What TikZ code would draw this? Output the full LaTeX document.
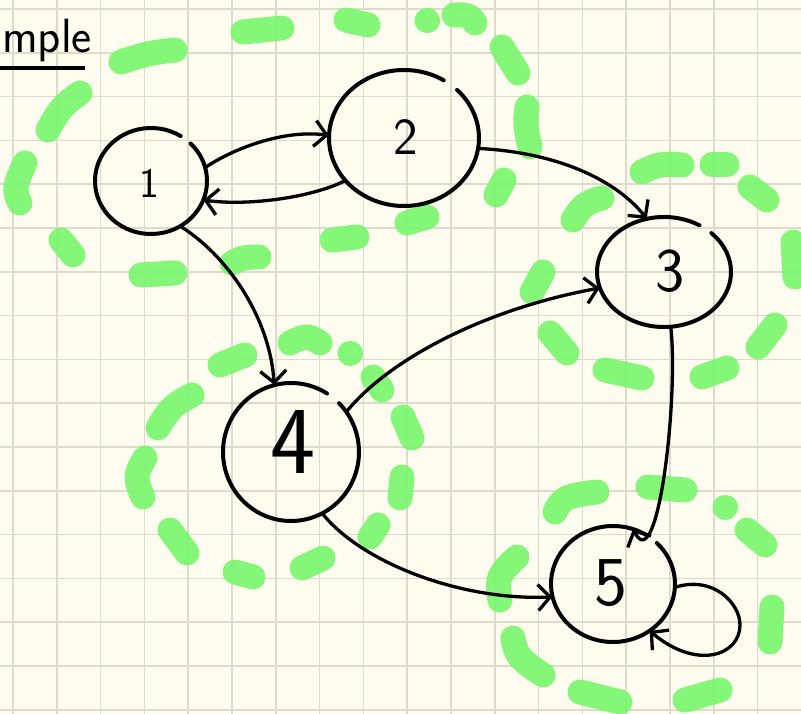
\documentclass[tikz,border=0pt]{standalone}
\usetikzlibrary{arrows.meta,shapes.geometric}
\definecolor{paper}{RGB}{253,252,238}
\definecolor{gridc}{RGB}{222,219,204}
\definecolor{hl}{RGB}{122,247,112}
\tikzset{
  vtx/.style={ellipse,inner sep=0pt},
  ring/.style={line width=4pt,line cap=round},
  lbl/.style={font=\sffamily,inner sep=0pt},
  edge/.style={line width=3.3pt,line cap=round,-{Straight Barb[length=12pt,width=26pt,line width=3.3pt]}},
  gdash/.style={line width=25pt,line cap=round,line join=round,draw=hl,opacity=0.92},
}
\newcommand\greendash[1]{\draw[gdash] plot[smooth,tension=0.7] coordinates {#1};}
\newcommand\ringarc[3]{\draw[ring] ([shift={(58:#2 and #3)}]#1.center) arc[start angle=58,end angle=405,x radius=#2,y radius=#3];}
\begin{document}
\begin{tikzpicture}[x=1pt,y=1pt]
\useasboundingbox (0,0) rectangle (801,-714);
\fill[paper] (0,0) rectangle (801,-714);
% grid
\foreach \i in {0,...,18} {\draw[gridc,line width=1.5pt] ({13+43.8*\i},0) -- ({13+43.8*\i},-714);}
\foreach \j in {0,...,16} {\draw[gridc,line width=1.5pt] (0,{-9-43.8*\j}) -- (801,{-9-43.8*\j});}

% green loop around {1,2}
\greendash{(121,-62) (148,-54) (175,-50)}
\greendash{(243,-32) (282,-28)}
\greendash{(346,-20) (368,-25)}
\greendash{(427,-21) (427.5,-21)}
\greendash{(454,-15) (468,-16) (475,-23)}
\greendash{(502,-47) (518,-73)}
\greendash{(527,-107) (526,-126) (530,-147)}
\greendash{(504,-180) (496,-195)}
\greendash{(407,-223) (427,-217)}
\greendash{(332,-240) (357,-237)}
\greendash{(232,-263) (244,-258) (259,-257)}
\greendash{(141,-275) (175,-273)}
\greendash{(61,-240) (73,-255)}
\greendash{(25,-163) (16,-187) (20,-203)}
\greendash{(48,-130) (62,-108) (80,-93)}
% green loop around {3}
\greendash{(642,-172) (660,-165) (682,-165)}
\greendash{(712,-165) (727,-165)}
\greendash{(750,-187) (767,-200)}
\greendash{(793,-242) (795,-277)}
\greendash{(775,-325) (758,-347)}
\greendash{(727,-368) (702,-377)}
\greendash{(642,-378) (605,-370)}
\greendash{(567,-353) (550,-333)}
\greendash{(543,-272) (532,-292)}
\greendash{(573,-220) (585,-205) (602,-198)}
% green loop around {4}
\greendash{(290,-343) (307,-337) (320,-343)}
\greendash{(350,-353) (350.5,-353)}
\greendash{(373,-377) (382,-390)}
\greendash{(403,-417) (412,-438)}
\greendash{(402,-477) (400,-498)}
\greendash{(378,-525) (370,-537)}
\greendash{(323,-558) (302,-568)}
\greendash{(253,-577) (235,-572)}
\greendash{(187,-553) (170,-530)}
\greendash{(145,-458) (137,-477) (143,-497)}
\greendash{(158,-428) (172,-408) (192,-395)}
\greendash{(220,-365) (245,-355)}
% green loop around {5}
\greendash{(555,-512) (567,-498) (597,-492)}
\greendash{(648,-487) (685,-490)}
\greendash{(725,-507) (725.5,-507)}
\greendash{(747,-530) (765,-545)}
\greendash{(772,-607) (770,-642)}
\greendash{(720,-690) (685,-700)}
\greendash{(620,-702) (580,-692)}
\greendash{(543,-675) (520,-657) (513,-638)}
\greendash{(517,-557) (500,-577) (500,-600)}

% title (only its end is visible)
\node[lbl,font=\sffamily\fontsize{48}{48}\selectfont,anchor=base west] (title) at (2,-53) {mple};
\draw[line width=3.3pt] (0,-68) -- (85,-68);

% vertices
\node[vtx,minimum width=112pt,minimum height=106pt] (n1) at (151,-181) {};
\node[vtx,minimum width=150pt,minimum height=136pt] (n2) at (404,-138) {};
\node[vtx,minimum width=134pt,minimum height=110pt] (n3) at (664,-272) {};
\node[vtx,minimum width=136pt,minimum height=138pt] (n4) at (291,-452) {};
\node[vtx,minimum width=124pt,minimum height=116pt] (n5) at (613,-584) {};
\ringarc{n1}{56}{53}
\ringarc{n2}{75}{68}
\ringarc{n3}{67}{55}
\ringarc{n4}{68}{69}
\ringarc{n5}{62}{58}
\node[lbl,font=\sffamily\fontsize{42}{42}\selectfont] (l1) at (149,-183) {1};
\node[lbl,font=\sffamily\fontsize{52}{52}\selectfont] (l2) at (406,-137) {2};
\node[lbl,font=\sffamily\fontsize{62}{62}\selectfont] (l3) at (670,-271) {3};
\node[lbl,font=\sffamily\fontsize{96}{96}\selectfont] (l4) at (293,-442) {4};
\node[lbl,font=\sffamily\fontsize{70}{70}\selectfont] (l5) at (611,-583) {5};

% edges
\draw[edge] (n1.14) .. controls +(28,19) and +(-45,6) .. (n2.178);
\draw[edge] (n2.216) .. controls +(-34,-17) and +(45,-6) .. (n1.-20);
\draw[edge] (n2.-8.5) .. controls +(80,-4) and +(-30,38) .. (n3.108);
\draw[edge] (n1.-57) .. controls +(45,-28) and +(-5,70) .. (n4.104);
\draw[edge] (n4.36) .. controls +(45,55) and +(-110,-20) .. (n3.194);
\draw[edge] (n4.-63) .. controls +(40,-50) and +(-90,-4) .. (n5.192.5);
\draw[edge] (n3.-83) .. controls +(8,-70) and +(25,-50) .. (n5.70);
\coordinate (loopr) at (740,-625);
\draw[edge] (n5.-3) .. controls +(38,12) and +(0,22) .. (loopr) .. controls +(0,-30) and +(48,-40) .. (n5.-52);
\end{tikzpicture}
\end{document}
